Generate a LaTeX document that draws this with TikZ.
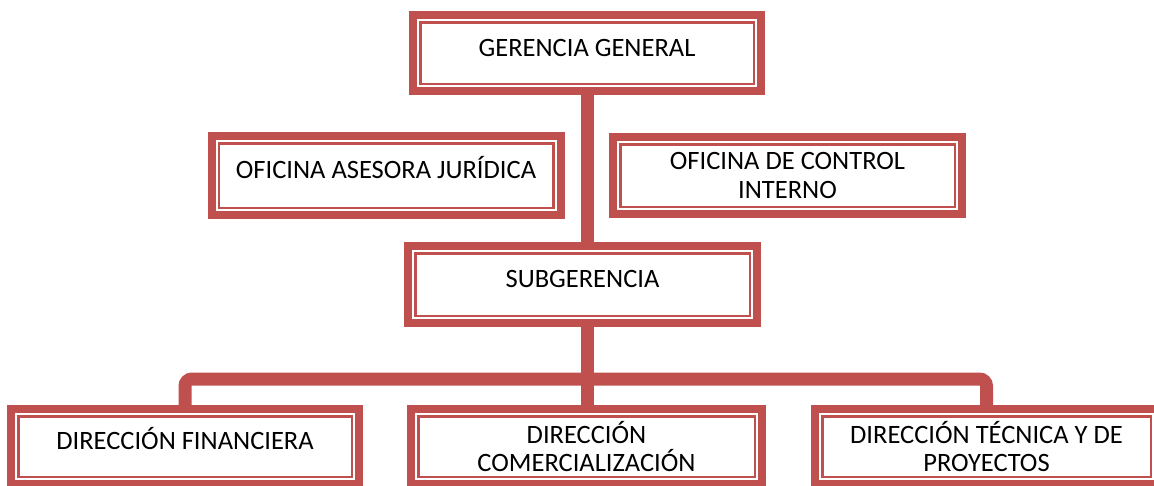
\documentclass[tikz,border=0pt]{standalone}
\usepackage{fontspec}
\setmainfont{Carlito}
\usepackage{xcolor}
\usetikzlibrary{positioning,calc}
\definecolor{orgred}{HTML}{C0504D}

\begin{document}
\begin{tikzpicture}[x=1pt, y=-1pt,
  every node/.style={font=\fontsize{26.5}{28.5}\selectfont, align=center},
  unit/.style={draw=orgred, line width=8pt, fill=white, inner sep=0pt,
    minimum width=#1, minimum height=77pt,
    path picture={\draw[orgred, line width=2.5pt]
      ([shift={(7.25pt,7.25pt)}]path picture bounding box.south west) rectangle
      ([shift={(-7.25pt,-7.25pt)}]path picture bounding box.north east);}},
  oneline/.style={text height=17pt, text depth=11pt},
  link/.style={orgred, line width=13pt}]
  \useasboundingbox (0,0) rectangle (1154,485);
  \clip (0,0) rectangle (1154,485);

  \node[unit=348pt, minimum height=76pt, oneline] (ger) at (587,53) {GERENCIA GENERAL};
  \node[unit=349pt, minimum height=79pt, oneline] (jur) at (386,175.5) {OFICINA ASESORA JURÍDICA};
  \node[unit=349pt] (ctrl) at (787.5,175.5) {OFICINA DE CONTROL\\INTERNO};
  \node[unit=349pt, oneline] (sub) at (582.5,284.5) {SUBGERENCIA};
  \node[unit=348pt, minimum height=75pt, oneline] (fin) at (185,446.5) {DIRECCIÓN FINANCIERA};
  \node[unit=351pt, minimum height=75pt] (com) at (586.5,446.5) {DIRECCIÓN\\COMERCIALIZACIÓN};
  \node[unit=343pt, minimum height=75pt] (tec) at (986.5,446.5) {DIRECCIÓN TÉCNICA Y DE\\PROYECTOS};

  \coordinate (bar) at (587,379);
  \draw[link] (ger.south) -- (ger.south |- sub.north);
  \draw[link] (ger.south |- sub.south) -- (bar);
  \draw[link, rounded corners=7pt] (fin.north) |- (bar) -| (tec.north);
  \draw[link] (bar) -- (bar |- com.north);
\end{tikzpicture}
\end{document}
